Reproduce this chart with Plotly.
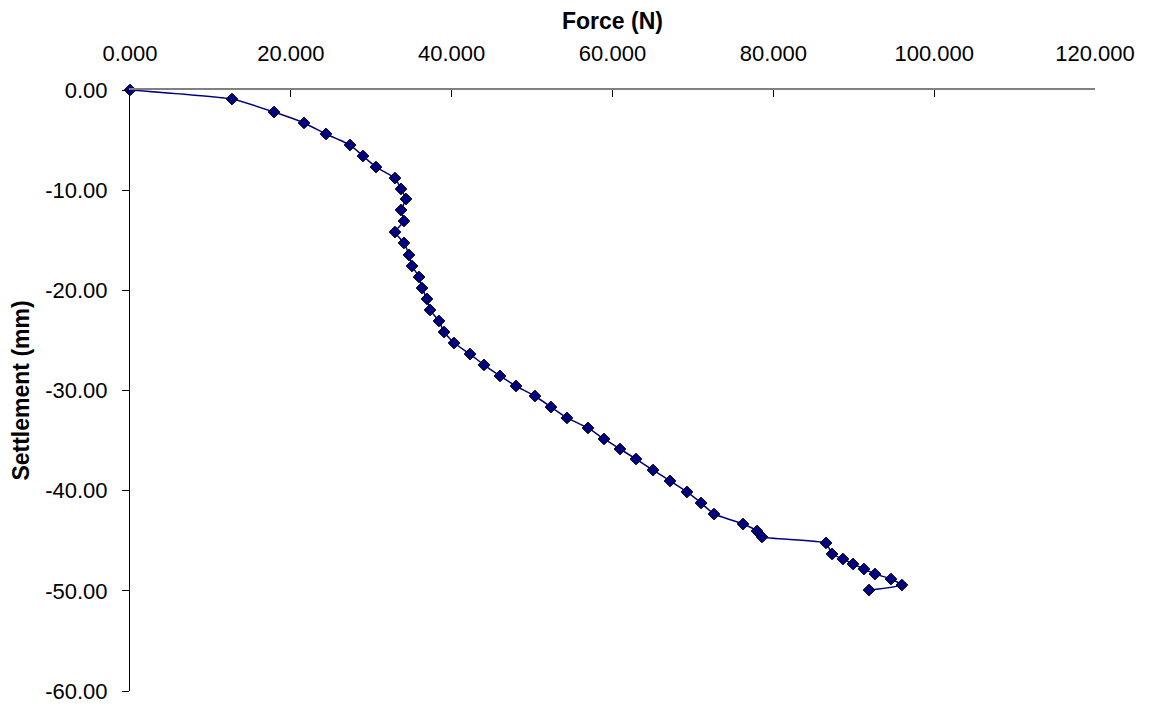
import plotly.graph_objects as go

force = [0, 12.68, 17.91, 21.64, 24.37, 27.36, 28.97, 30.59, 32.95, 33.70, 34.32, 33.70,
         34.07, 32.95, 34.07, 34.69, 35.07, 35.94, 36.31, 36.93, 37.31, 38.42, 39.05,
         40.29, 42.28, 44.02, 46.01, 48.00, 50.36, 52.35, 54.34, 56.95, 58.94, 60.93,
         62.92, 65.04, 67.15, 69.26, 71.01, 72.62, 76.23, 77.97, 78.59, 86.55, 87.30,
         88.66, 89.91, 91.27, 92.64, 94.63, 95.99, 91.90]
settlement = [0, -0.90, -2.20, -3.29, -4.39, -5.49, -6.59, -7.69, -8.79, -9.88, -10.88,
              -11.98, -13.08, -14.18, -15.27, -16.47, -17.57, -18.67, -19.77, -20.86,
              -21.96, -23.06, -24.16, -25.26, -26.36, -27.45, -28.55, -29.55, -30.55,
              -31.65, -32.74, -33.74, -34.84, -35.84, -36.84, -37.94, -39.03, -40.13,
              -41.23, -42.33, -43.33, -44.03, -44.62, -45.22, -46.32, -46.82, -47.32,
              -47.82, -48.32, -48.82, -49.42, -49.92]

x_ticks = [0, 20, 40, 60, 80, 100, 120]
y_ticks = [0, -10, -20, -30, -40, -50, -60]

fig = go.Figure()
fig.add_trace(go.Scatter(
    x=force, y=settlement, mode="lines+markers",
    line=dict(color="#000080", width=1.5, shape="spline", smoothing=0.4),
    marker=dict(symbol="diamond", size=9, color="#000080",
                line=dict(color="black", width=1)),
    showlegend=False, cliponaxis=False,
))

font = "Liberation Sans, Arial, sans-serif"
fig.update_layout(
    width=1143, height=703,
    margin=dict(l=122, r=56, t=82, b=20, autoexpand=False),
    paper_bgcolor="white", plot_bgcolor="white",
    font=dict(family=font, size=22, color="black"),
    xaxis=dict(
        side="top", range=[0, 120], tickvals=x_ticks,
        ticktext=[f"{v:.3f}" for v in x_ticks],
        ticks="inside", ticklen=7, tickcolor="black",
        ticklabelstandoff=18,
        showline=True, linecolor="#808080", linewidth=1.5,
        showgrid=False, zeroline=False, automargin=False,
        title=dict(text="<b>Force (N)</b>", font=dict(size=23), standoff=10),
    ),
    yaxis=dict(
        range=[-60, 0], tickvals=y_ticks,
        ticktext=[f"{v:.2f}" for v in y_ticks],
        ticks="outside", ticklen=7, tickcolor="black",
        ticklabelstandoff=10,
        showline=True, linecolor="black", linewidth=1,
        showgrid=False, zeroline=False, automargin=False,
        title=dict(text="<b>Settlement (mm)</b>", font=dict(size=23), standoff=9),
    ),
)

fig.write_html("out.html")
